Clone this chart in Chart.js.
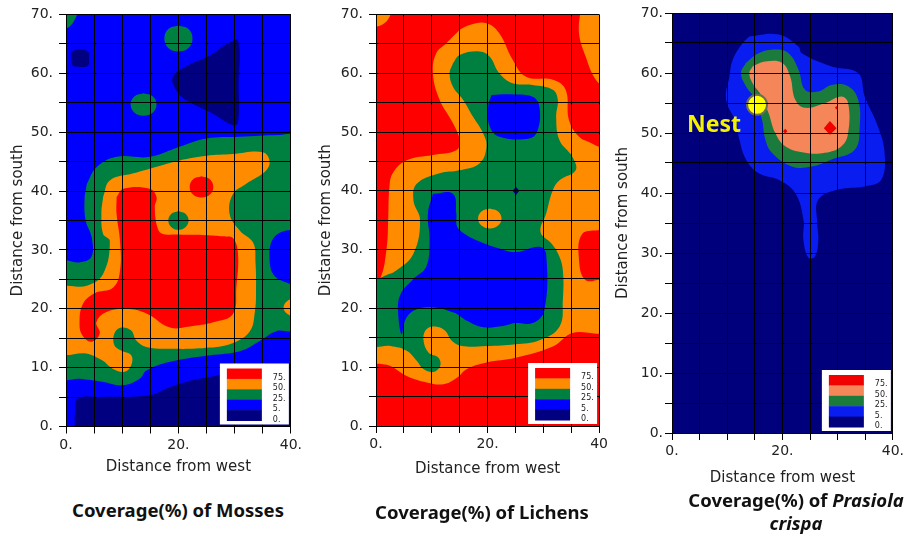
<!DOCTYPE html>
<html>
<head>
<meta charset="utf-8">
<script src="https://cdn.jsdelivr.net/npm/chart.js@4.4.1/dist/chart.umd.min.js"></script>
<style>
  body { margin: 0; background: #fff; }
  #wrap { position: relative; width: 907px; height: 537px; overflow: hidden; background: #fff; }
  canvas { position: absolute; top: 0; }
  .caption { position: absolute; font: bold 18.5px "Noto Sans", sans-serif; color: #111; text-align: center; line-height: 23px; }
</style>
</head>
<body>
<div id="wrap">
  <canvas id="moss" width="305" height="485" style="left:0px"></canvas>
  <canvas id="lichen" width="305" height="485" style="left:306px"></canvas>
  <canvas id="prasiola" width="301" height="490" style="left:606px"></canvas>
  <div class="caption" style="left:28px; top:498px; width:300px;">Coverage(%) of Mosses</div>
  <div class="caption" style="left:332px; top:500px; width:300px;">Coverage(%) of Lichens</div>
  <div class="caption" style="left:646px; top:488px; width:300px;">Coverage(%) of <i>Prasiola</i><br><i>crispa</i></div>
</div>
<script>
// coverage classes, lowest first
const NAVY = 0, BLUE = 1, GREEN = 2, ORANGE = 3, RED = 4;
const levelLabels = ['0.', '5.', '25.', '50.', '75.'];
const mapColors = ['#000080', '#0000ff', '#008040', '#ff8c00', '#ff0000'];
const prasColors = ['#00007c', '#0a1df0', '#1b7b3c', '#f4865a', '#f00000'];

// whole plot rectangle (the lowest layer)
const frame = [[-1, -1], [41, -1], [41, 71], [-1, 71]];

// ---- mosses: contour outlines (x = distance from west, y = distance from south)
const mossNavySpot = [[1.2, 61.2], [3.8, 61.2], [4.1, 62.5], [3.8, 63.8], [1.2, 63.8], [0.9, 62.5]];
const mossNavyWedge = [[28.5, 65], [30.6, 65.6], [30.7, 58], [30.6, 51.6], [29.6, 51.2], [26.2, 53.1], [21.4, 55.4], [19.6, 57.1], [19, 59.4], [21.4, 61.2], [25.6, 63]];
const mossGreenCorner = [[-1, 67.3], [0.6, 67.9], [1.6, 69.2], [2.1, 71], [-1, 71]];
const mossGreenSpotTop = [[20, 68.1], [21.8, 67.5], [22.5, 65.9], [21.8, 64.3], [20, 63.7], [18.2, 64.3], [17.5, 65.9], [18.2, 67.5]];
const mossGreenSpotMid = [[13.8, 56.6], [15.4, 56.1], [16.1, 54.7], [15.4, 53.3], [13.8, 52.8], [12.2, 53.3], [11.5, 54.7], [12.2, 56.1]];
const mossGreen = [[3.7, 41.2], [5.4, 44], [9, 45.8], [14.9, 45.8], [20.2, 47.5], [25, 48.9], [30.9, 49.2], [38, 49.5], [40.5, 49.4], [41, 45], [41, 20], [40.5, 16.4], [37.4, 16.2], [34.4, 14.5], [30.9, 12.8], [25.6, 12.1], [18.5, 11], [14.3, 9.5], [13.1, 8.1], [10.1, 7], [6.5, 7.6], [2.4, 8.1], [-1, 8.4], [-1, 27.8], [2.5, 27.9], [4.5, 28.8], [4.6, 32], [3.5, 35], [3.3, 38.5]];
const mossBlueEdge = [[41, 33.4], [38.2, 33], [36.6, 31.5], [36.2, 28.5], [36.9, 25.8], [38.8, 24.6], [41, 24.4]];
const mossNavy = [[1.6, -1], [1.6, 2.5], [2.2, 4.8], [6, 5], [14.9, 5.3], [18.5, 6.7], [22.6, 7.9], [25.6, 8.4], [30, 9.4], [36, 10], [41, 10.2], [41, -1]];
const mossOrange = [[6.6, 39], [7.8, 41.8], [12, 43], [14.9, 43.8], [20.2, 45.2], [25, 46], [29.7, 46.3], [35, 46.6], [36.2, 45.2], [35.6, 43.5], [32, 41.2], [29.7, 39.5], [29.1, 36.1], [30.9, 33.3], [33.3, 31.2], [33.7, 28], [33.8, 23], [33.6, 19.5], [32.7, 16.2], [29.7, 14.2], [25.6, 13.4], [18.5, 13.2], [14.3, 13.5], [12.5, 14.6], [11.6, 16.3], [9.8, 16.8], [8.6, 15.8], [8.6, 13.8], [9.8, 12.9], [11.6, 12.1], [11.6, 10.4], [10.4, 9.3], [8.3, 9.8], [6.5, 11.2], [3.6, 12.4], [-1, 12.7], [-1, 23.3], [3.7, 23.9], [6.6, 25.9], [7.8, 31.5], [6.6, 32.7], [6.3, 36.1]];
const mossOrangeEdge = [[41, 21.8], [39.6, 21.5], [38.7, 20.3], [39.4, 19.1], [41, 18.8]];
const mossRed = [[9, 39], [10.2, 40.4], [14.9, 40.4], [16.1, 39], [15.8, 37.3], [16.2, 34], [17, 32.8], [20, 32.6], [25, 32.5], [28, 32.3], [29.7, 32], [30.6, 29.3], [30.3, 23.6], [29.7, 19.1], [26.2, 17.7], [22, 17], [18.5, 16.8], [14.3, 19.2], [10.7, 20], [7.1, 19.4], [5.4, 17.7], [6, 15.8], [4.5, 14.4], [2.9, 15.5], [2.4, 17.5], [3, 20.8], [5, 22.6], [8.4, 23.6], [9.6, 26.4], [9.6, 31.5], [9, 36.1]];
const mossRedSpot = [[24.1, 42.5], [25.6, 42], [26.2, 40.7], [25.6, 39.4], [24.1, 38.9], [22.6, 39.4], [22, 40.7], [22.6, 42]];
const mossGreenSpotLow = [[20, 36.6], [21.3, 36.1], [21.8, 35], [21.3, 33.9], [20, 33.4], [18.7, 33.9], [18.2, 35], [18.7, 36.1]];

// ---- lichens
const lichOrangeCorner = [[-1, 67.8], [0.8, 68.1], [2.2, 69.2], [2.6, 71], [-1, 71]];
const lichOrangeEdge = [[36.7, 71], [36.4, 66.8], [37.6, 62.8], [39.4, 58.9], [41, 58], [41, 71]];
const lichOrange = [[15, 67.4], [16.8, 68.2], [19.8, 68.5], [22.1, 66.8], [24.5, 62.3], [26.9, 59.4], [31.7, 58.9], [34, 57.2], [34.6, 52], [36.4, 49.2], [38.8, 48], [41, 46.4], [41, 34], [37, 32.7], [36.4, 28.2], [37.6, 24.8], [41, 24.6], [41, 16.3], [35.2, 15.8], [31.7, 13.5], [25, 11.6], [19.8, 10.8], [16.3, 9.7], [14.5, 8.2], [12.1, 7.1], [9.1, 7.4], [5.5, 8.5], [2.6, 10.2], [-1, 11.4], [-1, 24.2], [0.7, 25], [1.9, 30.2], [2.2, 35.6], [2.4, 40.5], [3, 43], [5.5, 45.2], [10.2, 46.1], [14.4, 46.9], [15, 48.6], [13.8, 51.5], [11.4, 55.5], [10.2, 60], [10.8, 63.4], [12.6, 65.1]];
const lichGreen = [[13.8, 61.7], [15, 63.1], [18.6, 63.7], [20.4, 62.8], [22.1, 60], [24.5, 58.3], [28.1, 58], [31.7, 57.2], [32.6, 55.5], [32.3, 52.6], [32.9, 48.6], [35.2, 45.8], [35.8, 43.5], [32.9, 41.8], [31.7, 40.1], [30.5, 36.1], [29.5, 33], [31.5, 31], [32.8, 29], [33.5, 26.5], [33.5, 21.4], [32.9, 16.9], [29.3, 14.6], [25, 13.9], [19.8, 13.6], [15.4, 13.6], [13.6, 14.5], [12.4, 16.2], [10.9, 16.9], [9.1, 16.5], [8.5, 14.8], [9.4, 12.5], [11.2, 11.6], [11.5, 10.2], [10.3, 9.2], [8.5, 9.7], [7.3, 11.1], [5.5, 12.8], [2.6, 13.6], [-1, 13.9], [-1, 24.2], [1.5, 25.5], [3.7, 26.5], [6.7, 29.3], [7.9, 35], [6.7, 38.4], [7.3, 41.2], [11.4, 43], [15, 43.5], [18.6, 44.7], [19.8, 47.5], [19.2, 49.8], [17.4, 52.6], [15.6, 55.5], [13.8, 57.7], [13.2, 60]];
const lichOrangeSpot = [[20.4, 37], [21.9, 36.5], [22.5, 35.3], [21.9, 34.1], [20.4, 33.6], [18.9, 34.1], [18.3, 35.3], [18.9, 36.5]];
const lichBlueTop = [[20.7, 56.3], [24, 56.4], [28.1, 56], [29.3, 54.3], [29, 50.3], [27.5, 48.9], [22.1, 49.2], [20.4, 50.9], [20.1, 54.3]];
const lichBlue = [[10.2, 39.5], [13.8, 39.5], [14.4, 36.1], [14.5, 34], [15.4, 33], [18, 31.6], [22.1, 30.2], [25.1, 29.6], [29.3, 30.5], [30.5, 29.3], [30.2, 19.7], [28.1, 17.5], [25, 17.5], [22.8, 17], [19.2, 16.8], [16.3, 17.9], [13.9, 19.3], [9.7, 20.2], [6.7, 19.6], [5.2, 17.9], [4.6, 15.6], [4, 18.8], [4.3, 22.2], [6.7, 25], [9, 27.1], [9.6, 31.6], [9.3, 36.1]];
const lichNavyDot = [[25.1, 40.7], [25.7, 40], [25.1, 39.3], [24.5, 40]];

// ---- Prasiola crispa
const prasBlue = [[14, 66.1], [19.3, 66.4], [22.9, 64.4], [23.5, 63.3], [28.9, 61.1], [33.7, 60], [34.9, 56.1], [37.3, 51.1], [38.5, 46.7], [37.9, 42.2], [34.9, 41.1], [30.1, 40.6], [26.5, 38.9], [26.3, 35], [26.5, 32.2], [25.9, 29.4], [24.7, 29.2], [23.8, 32.2], [23.8, 35.6], [22.3, 40], [19.3, 42.2], [15.7, 43.3], [13.4, 45.6], [12.2, 48.9], [11.6, 51.7], [9.8, 55.6], [10.4, 59.4], [11, 62.2], [12.8, 65]];
const prasGreen = [[13.4, 61.7], [15.7, 63.3], [18.7, 63.9], [21.1, 63.3], [22.9, 60.6], [24.1, 57.2], [26.5, 56.9], [28.9, 58], [31.9, 57.8], [33.7, 55.6], [34, 51.1], [33.1, 47.2], [28.9, 45.6], [25.3, 44.4], [21.7, 44.4], [18.1, 46.7], [16.9, 48.9], [16.3, 52.2], [15.1, 55.6], [13.4, 57.8], [12.5, 60]];
const prasOrange = [[14.6, 61.1], [16.9, 61.9], [19.9, 61.7], [21.4, 59.4], [22.3, 55.6], [24.1, 54.2], [27.7, 55], [30.7, 56.1], [31.9, 55], [31.9, 50], [30.7, 47.8], [27.7, 46.7], [24.1, 46.7], [20.5, 47.8], [18.7, 50], [17.5, 53.3], [16.3, 56.1], [14.6, 58.3], [14, 60]];
const prasRedPeak = [[28.6, 52], [29.8, 50.8], [28.6, 49.7], [27.5, 50.8]];
const prasRedSpotA = [[20.5, 50.7], [20.9, 50.3], [20.5, 49.9], [20.1, 50.3]];
const prasRedSpotB = [[29.8, 54.5], [30.1, 54.2], [29.8, 53.9], [29.5, 54.2]];
const nestPoint = [15.4, 54.7];
const nestLabelAt = [7.6, 51.3];

// drawing order, bottom to top: [class, outline, smoothed]
const mossLayers = [
  [BLUE, frame, false], [NAVY, mossNavySpot, true], [NAVY, mossNavyWedge, true],
  [GREEN, mossGreenCorner, true], [GREEN, mossGreenSpotTop, true], [GREEN, mossGreenSpotMid, true],
  [GREEN, mossGreen, true], [BLUE, mossBlueEdge, true], [NAVY, mossNavy, true],
  [ORANGE, mossOrange, true], [ORANGE, mossOrangeEdge, true], [RED, mossRed, true],
  [RED, mossRedSpot, true], [GREEN, mossGreenSpotLow, true]
];
const lichLayers = [
  [RED, frame, false], [ORANGE, lichOrangeCorner, true], [ORANGE, lichOrangeEdge, true],
  [ORANGE, lichOrange, true], [GREEN, lichGreen, true], [ORANGE, lichOrangeSpot, true],
  [BLUE, lichBlueTop, true], [BLUE, lichBlue, true], [NAVY, lichNavyDot, false]
];
const prasLayers = [
  [NAVY, frame, false], [BLUE, prasBlue, true], [GREEN, prasGreen, true], [ORANGE, prasOrange, true],
  [RED, prasRedPeak, false], [RED, prasRedSpotA, false], [RED, prasRedSpotB, false]
];

function layerSets(layers, colors) {
  const n = layers.length;
  return layers.map(([level, pts, smooth], i) => {
    const ring = pts.concat([pts[0]]);
    return {
      data: ring.map(p => ({x: p[0], y: p[1]})),
      showLine: true,
      fill: 'shape',
      backgroundColor: colors[level],
      borderColor: 'rgba(0,0,0,0)',
      borderWidth: 0,
      pointRadius: 0,
      pointHoverRadius: 0,
      tension: smooth ? 0.4 : 0,
      order: n - i + 1
    };
  });
}

// small white box with the class colours, bottom right of the plot
function levelKey(colors) {
  return {
    id: 'levelKey',
    afterDraw(chart) {
      const {ctx, chartArea: ca} = chart;
      const w = 69, h = 61;
      const left = ca.right - 2 - w, top = ca.bottom - 2 - h;
      ctx.save();
      ctx.fillStyle = '#fff';
      ctx.fillRect(left, top, w, h);
      const band = 10.4, sx = left + 7, sy = top + 5;
      for (let i = 0; i < 5; i++) {
        ctx.fillStyle = colors[4 - i];
        ctx.fillRect(sx, sy + i * band, 35, band + 0.5);
      }
      ctx.fillStyle = '#222';
      ctx.font = '8px "DejaVu Sans"';
      ctx.textBaseline = 'middle';
      for (let i = 0; i < 5; i++) {
        ctx.fillText(levelLabels[4 - i], sx + 46, sy + (i + 1) * band - 1);
      }
      ctx.restore();
    }
  };
}

const nestLabel = {
  id: 'nestLabel',
  afterDraw(chart) {
    const {ctx, scales: {x, y}} = chart;
    ctx.save();
    ctx.font = 'bold 23px "Noto Sans"';
    ctx.fillStyle = '#f2f200';
    ctx.textAlign = 'center';
    ctx.textBaseline = 'middle';
    ctx.fillText('Nest', x.getPixelForValue(nestLabelAt[0]), y.getPixelForValue(nestLabelAt[1]));
    ctx.restore();
  }
};

const tickFont = {family: 'DejaVu Sans', size: 14};
const titleFont = {family: 'DejaVu Sans', size: 15};

function makeChart(id, layers, colors, p) {
  const datasets = layerSets(layers, colors);
  const plugins = [levelKey(colors)];
  if (p.nest) {
    datasets.push({
      data: [{x: nestPoint[0], y: nestPoint[1]}],
      pointRadius: 10, pointHoverRadius: 10,
      backgroundColor: '#ffff00', borderColor: '#6e6e58', borderWidth: 2,
      order: 0
    });
    plugins.push(nestLabel);
  }
  return new Chart(document.getElementById(id), {
    type: 'scatter',
    data: {datasets},
    options: {
      responsive: false,
      animation: false,
      events: [],
      layout: {padding: {left: 0, top: p.top, right: p.right, bottom: 0}},
      plugins: {legend: {display: false}, tooltip: {enabled: false}},
      scales: {
        x: {
          type: 'linear', min: 0, max: 40,
          afterFit: s => { s.height = p.xh; },
          grid: {color: '#000', lineWidth: 1, tickLength: 7, z: 1},
          border: {color: '#000', width: 1, z: 1},
          ticks: {
            stepSize: 5, autoSkip: false, maxRotation: 0, padding: 3, color: '#222', font: tickFont,
            callback: v => v % 20 === 0 ? (v === 40 ? p.lastX : v + '.') : ''
          },
          title: {display: true, text: 'Distance from west', color: '#222', font: titleFont, padding: {top: 0, bottom: p.xTitlePad}}
        },
        y: {
          type: 'linear', min: 0, max: 70,
          afterFit: s => { s.width = p.yw; },
          grid: {color: '#000', lineWidth: 1, tickLength: 7, z: 1},
          border: {color: '#000', width: 1, z: 1},
          ticks: {
            stepSize: 5, autoSkip: false, padding: p.yPad, color: '#222', font: tickFont,
            callback: v => v % 10 === 0 ? v + '.' : ''
          },
          title: {display: true, text: 'Distance from south', color: '#222', font: titleFont, padding: {top: p.yTitlePad, bottom: 0}}
        }
      }
    },
    plugins
  });
}

makeChart('moss', mossLayers, mapColors, {top: 14, right: 14, xh: 58.5, yw: 66, yPad: 6, xTitlePad: 9, yTitlePad: 9, lastX: '40.'});
makeChart('lichen', lichLayers, mapColors, {top: 14, right: 11, xh: 59, yw: 70, yPad: 6, xTitlePad: 7, yTitlePad: 11, lastX: '40'});
makeChart('prasiola', prasLayers, prasColors, {top: 13, right: 12, xh: 57, yw: 66, yPad: 2, xTitlePad: 3, yTitlePad: 8, lastX: '40.', nest: true});
</script>
</body>
</html>
